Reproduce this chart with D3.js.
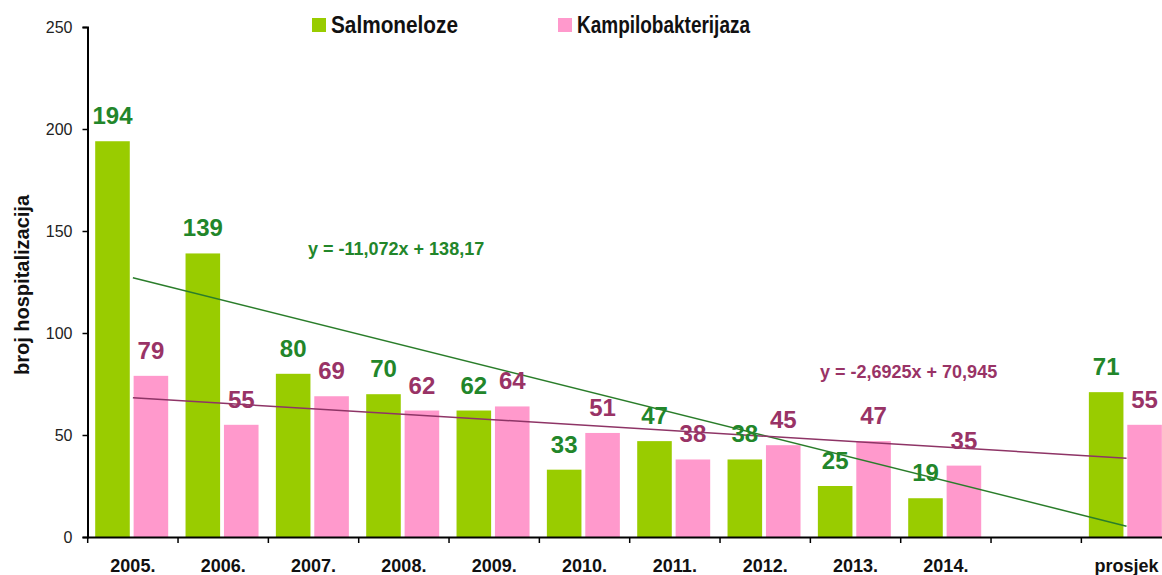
<!DOCTYPE html>
<html>
<head>
<meta charset="utf-8">
<title>Hospitalizacije - salmoneloze i kampilobakterijaza</title>
<script src="https://cdn.jsdelivr.net/npm/d3@7"></script>
<style>
  body { margin: 0; background: #fff; }
  text { font-family: "Liberation Sans", Arial, sans-serif; }
</style>
</head>
<body>
<svg width="1162" height="575"></svg>
<script>

// categories (one empty slot before the average)
var categories = ['2005.', '2006.', '2007.', '2008.', '2009.', '2010.', '2011.', '2012.', '2013.', '2014.', ' ', 'prosjek']
var seriesNames = ['Salmoneloze', 'Kampilobakterijaza']
var salmoneloze = [194, 139, 80, 70, 62, 33, 47, 38, 25, 19, null, 71]
var kampilo     = [79, 55, 69, 62, 64, 51, 38, 45, 47, 35, null, 55]
var yTicks = [0, 50, 100, 150, 200, 250]

// linear trend lines as printed on the chart: [slope, intercept]
var trendSalm = [-11.072, 138.17]
var trendKamp = [-2.6925, 70.945]
var trendLabels = ['y = -11,072x + 138,17', 'y = -2,6925x + 70,945']

var barColors = ['#99cc00', '#ff99cc']
var labelColors = ['#22862a', '#993366']
var lineColors = ['#2a7d2a', '#8e3466']

var svg = d3.select('svg')

var x = d3.scaleBand().domain(categories).range([87.7, 1171.7])
var xs = d3.scaleBand().domain(seriesNames).range([7.5, 80.5]).paddingInner(0.1)
var y = d3.scaleLinear().domain([0, 250]).range([537, 27])

// bars
var rows = []
categories.forEach(function (c, i) {
  if (salmoneloze[i] != null) rows.push({cat: c, s: 0, v: salmoneloze[i]})
  if (kampilo[i] != null) rows.push({cat: c, s: 1, v: kampilo[i]})
})

svg.append('g').selectAll('rect').data(rows).enter().append('rect')
  .attr('x', function (d) { return x(d.cat) + xs(seriesNames[d.s]) })
  .attr('y', function (d) { return y(d.v) })
  .attr('width', xs.bandwidth())
  .attr('height', function (d) { return y(0) - y(d.v) })
  .attr('fill', function (d) { return barColors[d.s] })

// trend lines, x = 1..10 for the years, drawn through to the 12th slot
function trendPoints(t) {
  return [1, 12].map(function (k) {
    return [x(categories[k - 1]) + x.bandwidth() / 2, y(t[0] * k + t[1])]
  })
}
var line = d3.line()
;[trendSalm, trendKamp].forEach(function (t, i) {
  svg.append('path')
    .attr('d', line(trendPoints(t)))
    .attr('fill', 'none')
    .attr('stroke', lineColors[i])
    .attr('stroke-width', 1.5)
})

// value labels
svg.append('g').selectAll('text').data(rows).enter().append('text')
  .attr('x', function (d) { return x(d.cat) + xs(seriesNames[d.s]) + xs.bandwidth() / 2 })
  .attr('y', function (d) { return y(d.v) - 17 })
  .attr('text-anchor', 'middle')
  .attr('font-size', 24).attr('font-weight', 'bold')
  .attr('fill', function (d) { return labelColors[d.s] })
  .text(function (d) { return d.v })

// equations
svg.append('text').attr('x', 308).attr('y', 255)
  .attr('font-size', 18).attr('font-weight', 'bold').attr('fill', labelColors[0])
  .text(trendLabels[0])
svg.append('text').attr('x', 820).attr('y', 378)
  .attr('font-size', 18).attr('font-weight', 'bold').attr('fill', labelColors[1])
  .text(trendLabels[1])

// axes
var yAxis = svg.append('g').attr('transform', 'translate(87.5,0)')
  .call(d3.axisLeft(y).tickValues(yTicks).tickSize(5).tickPadding(10))
yAxis.select('.domain').attr('stroke', '#000').attr('stroke-width', 2)
yAxis.selectAll('.tick line').attr('stroke', '#000').attr('stroke-width', 1.5)
yAxis.selectAll('.tick text').attr('font-size', 16).attr('fill', '#222')
  .attr('font-family', '"Liberation Sans", Arial, sans-serif')

var xAxis = svg.append('g').attr('transform', 'translate(0,537)')
  .call(d3.axisBottom(x).tickSize(0).tickPadding(0))
xAxis.select('.domain').attr('stroke', '#000').attr('stroke-width', 2)
xAxis.selectAll('.tick text').attr('font-size', 18).attr('font-weight', 'bold')
  .attr('fill', '#111').attr('dy', 0).attr('y', 35)
  .attr('font-family', '"Liberation Sans", Arial, sans-serif')
// tick marks at category boundaries
svg.append('g').selectAll('line').data(categories).enter().append('line')
  .attr('x1', function (d) { return x(d) }).attr('x2', function (d) { return x(d) })
  .attr('y1', 537).attr('y2', 543)
  .attr('stroke', '#000').attr('stroke-width', 1.5)

// y title
svg.append('text')
  .attr('transform', 'translate(29,285) rotate(-90)')
  .attr('text-anchor', 'middle')
  .attr('font-size', 20).attr('font-weight', 'bold').attr('fill', '#111')
  .text('broj hospitalizacija')

// legend
var legendX = [312, 558]
var legendW = [127, 173]
seriesNames.forEach(function (n, i) {
  svg.append('rect').attr('x', legendX[i]).attr('y', 18).attr('width', 14).attr('height', 14)
    .attr('fill', barColors[i])
  svg.append('text').attr('x', legendX[i] + 19).attr('y', 33)
    .attr('font-size', 23).attr('font-weight', 'bold').attr('fill', '#111')
    .attr('textLength', legendW[i]).attr('lengthAdjust', 'spacingAndGlyphs')
    .text(n)
})

</script>
</body>
</html>
